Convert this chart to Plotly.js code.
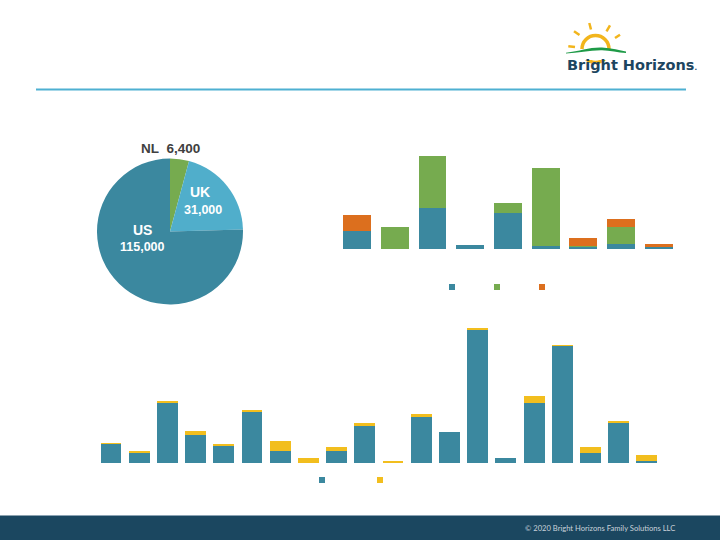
<!DOCTYPE html>
<html>
<head>
<meta charset="utf-8">
<script src="https://cdn.plot.ly/plotly-3.0.1.min.js"></script>
<style>
  body { margin: 0; padding: 0; background: #fff; }
  #plotDiv { width: 720px; height: 540px; }
</style>
</head>
<body>
<div id="plotDiv"></div>
<script>
// pie: people served by country
var pieLabels = ['NL', 'UK', 'US'];
var pieValues = [6400, 31000, 115000];
var pieText = ['6,400', '31,000', '115,000'];

// top right stacked bars (9 groups, 3 series)
var topCats = ['1', '2', '3', '4', '5', '6', '7', '8', '9'];
var topTeal = [17.7, 0, 40.7, 3.7, 36.3, 3.3, 2.3, 4.7, 2.3];
var topGreen = [0, 22, 52.6, 0, 10, 78, 0.7, 17, 0];
var topOrange = [16.6, 0, 0, 0, 0, 0, 8.3, 8, 3];

// bottom stacked bars (20 groups, 2 series)
var botCats = ['1', '2', '3', '4', '5', '6', '7', '8', '9', '10',
               '11', '12', '13', '14', '15', '16', '17', '18', '19', '20'];
var botTeal = [19, 10.7, 60.7, 28, 17.7, 51.7, 12.7, 0, 12.3, 37.7,
               0, 46.7, 31.7, 133.3, 5.7, 60.7, 117, 10.7, 40.7, 2.3];
var botYellow = [1, 1.4, 1.7, 4, 2, 1.7, 9.7, 5, 4, 2.7,
                 2.3, 2.7, 0, 1.7, 0, 6.7, 1.3, 5.7, 1.7, 5.7];

var TEAL = '#3B889F', GREEN = '#76AB4F', ORANGE = '#DC6F1E',
    YELLOW = '#F2BE1E', LIGHTBLUE = '#50AECB', NAVY = '#1B4760';

// pixel -> paper helpers (margins are 0)
function px(x) { return x / 720; }
function py(y) { return 1 - y / 540; }

var pie = {
  type: 'pie',
  labels: pieLabels,
  values: pieValues,
  sort: false,
  direction: 'clockwise',
  rotation: 0,
  textinfo: 'none',
  hoverinfo: 'label+value',
  marker: {colors: [GREEN, LIGHTBLUE, TEAL], line: {width: 0}},
  domain: {x: [px(97), px(243)], y: [py(304.5), py(158.5)]},
  showlegend: false
};

function bar(x, y, color, xa, ya) {
  return {
    type: 'bar', x: x, y: y, xaxis: xa, yaxis: ya,
    marker: {color: color}, showlegend: false, hoverinfo: 'y'
  };
}

function legendDot(color, leg) {
  return {
    type: 'scatter', mode: 'markers', x: [null], y: [null],
    name: '', legend: leg,
    marker: {symbol: 'square', size: 6, color: color},
    xaxis: 'x', yaxis: 'y'
  };
}

var data = [
  pie,
  bar(topCats, topTeal, TEAL, 'x', 'y'),
  bar(topCats, topGreen, GREEN, 'x', 'y'),
  bar(topCats, topOrange, ORANGE, 'x', 'y'),
  bar(botCats, botTeal, TEAL, 'x2', 'y2'),
  bar(botCats, botYellow, YELLOW, 'x2', 'y2'),
  legendDot(TEAL, 'legend'),
  legendDot(GREEN, 'legend'),
  legendDot(ORANGE, 'legend'),
  legendDot(TEAL, 'legend2'),
  legendDot(YELLOW, 'legend2')
];

var hidden = {showgrid: false, zeroline: false, showticklabels: false,
              showline: false, ticks: '', fixedrange: true};

function label(x, y, text, size, color) {
  return {xref: 'paper', yref: 'paper', x: px(x), y: py(y), xanchor: 'center', yanchor: 'middle',
          showarrow: false, text: '<b>' + text + '</b>', font: {size: size, color: color}};
}

var layout = {
  width: 720, height: 540,
  margin: {l: 0, r: 0, t: 0, b: 0},
  paper_bgcolor: '#fff', plot_bgcolor: 'rgba(0,0,0,0)',
  font: {family: 'Liberation Sans, Arial, sans-serif'},
  barmode: 'stack',
  xaxis: Object.assign({domain: [px(338.2), px(677.5)], type: 'category', anchor: 'y'}, hidden),
  yaxis: Object.assign({domain: [py(249), py(140)], range: [0, 109], anchor: 'x'}, hidden),
  xaxis2: Object.assign({domain: [px(96.9), px(661)], type: 'category', anchor: 'y2'}, hidden),
  yaxis2: Object.assign({domain: [py(463.3), py(320)], range: [0, 143.3], anchor: 'x2'}, hidden),
  bargap: 0.26,
  legend: {orientation: 'h', traceorder: 'normal', x: px(432), xanchor: 'left', y: py(287), yanchor: 'middle',
           font: {size: 8, color: '#fff'}, bgcolor: 'rgba(0,0,0,0)'},
  legend2: {orientation: 'h', traceorder: 'normal', x: px(302), xanchor: 'left', y: py(480), yanchor: 'middle',
            font: {size: 8, color: '#fff'}, bgcolor: 'rgba(0,0,0,0)', entrywidth: 13},
  shapes: [
    // header rule
    {type: 'line', xref: 'paper', yref: 'paper', x0: px(36), x1: px(686), y0: py(89.5), y1: py(89.5),
     line: {color: '#4EB0D2', width: 2}},
    // footer band
    {type: 'rect', xref: 'paper', yref: 'paper', x0: 0, x1: 1, y0: 0, y1: py(515.5),
     fillcolor: NAVY, line: {width: 0}},
    {type: 'line', xref: 'paper', yref: 'paper', x0: px(36), x1: px(612), y0: py(515.5), y1: py(515.5),
     line: {color: '#8BA3B4', width: 1}},
    // logo sun
    {type: 'circle', xref: 'paper', yref: 'paper', x0: px(582), x1: px(609), y0: py(62.5), y1: py(35.5),
     line: {color: '#F2B51C', width: 3.5}},
    {type: 'rect', xref: 'paper', yref: 'paper', x0: px(576), x1: px(616), y0: py(60), y1: py(49),
     fillcolor: '#fff', line: {width: 0}},
    {type: 'line', xref: 'paper', yref: 'paper', x0: px(589.3), y0: py(23), x1: px(591), y1: py(29.5),
     line: {color: '#F2B51C', width: 2.5}},
    {type: 'line', xref: 'paper', yref: 'paper', x0: px(610), y0: py(25.3), x1: px(606.5), y1: py(31.3),
     line: {color: '#F2B51C', width: 2.5}},
    {type: 'line', xref: 'paper', yref: 'paper', x0: px(574), y0: py(31.3), x1: px(579.5), y1: py(35),
     line: {color: '#F2B51C', width: 2.5}},
    {type: 'line', xref: 'paper', yref: 'paper', x0: px(620), y0: py(34.7), x1: px(615), y1: py(38),
     line: {color: '#F2B51C', width: 2.5}},
    {type: 'line', xref: 'paper', yref: 'paper', x0: px(568.3), y0: py(46.3), x1: px(575), y1: py(47),
     line: {color: '#F2B51C', width: 2.5}},
    // logo swoosh
    {type: 'path', xref: 'paper', yref: 'paper',
     path: 'M' + px(566) + ',' + py(52.8) +
           ' C' + px(580) + ',' + py(51) + ' ' + px(590) + ',' + py(47) + ' ' + px(602) + ',' + py(47.5) +
           ' C' + px(612) + ',' + py(48) + ' ' + px(620) + ',' + py(50.5) + ' ' + px(626) + ',' + py(51.5) +
           ' L' + px(626) + ',' + py(53) +
           ' C' + px(618) + ',' + py(52.5) + ' ' + px(610) + ',' + py(50.5) + ' ' + px(602) + ',' + py(50.2) +
           ' C' + px(590) + ',' + py(50) + ' ' + px(578) + ',' + py(53) + ' ' + px(566) + ',' + py(53.4) + ' Z',
     fillcolor: '#1E9A47', line: {width: 0}}
  ],
  annotations: [
    {xref: 'paper', yref: 'paper', x: px(565), y: py(65.5), xanchor: 'left', yanchor: 'middle',
     text: 'Bright Horizons<span style="font-size:7px">.</span>', showarrow: false,
     font: {family: 'DejaVu Sans', size: 14.5, color: '#1D4560', weight: 'bold'}},
    {xref: 'paper', yref: 'paper', x: px(677), y: py(527.5), xanchor: 'right', yanchor: 'middle',
     text: '\u00a9 2020 Bright Horizons Family Solutions LLC', showarrow: false,
     font: {family: 'Lato', size: 7.6, color: '#C9D2DA'}},
    // pie labels
    label(170, 148, pieLabels[0] + '&nbsp;&nbsp;' + pieText[0], 13.5, '#404040'),
    label(200, 191.5, pieLabels[1], 14, '#fff'),
    label(202.5, 210, pieText[1], 12.5, '#fff'),
    label(142.5, 230, pieLabels[2], 14, '#fff'),
    label(142, 247.5, pieText[2], 12.5, '#fff')
  ]
};

Plotly.newPlot('plotDiv', data, layout, {displayModeBar: false, staticPlot: true});
</script>
</body>
</html>
